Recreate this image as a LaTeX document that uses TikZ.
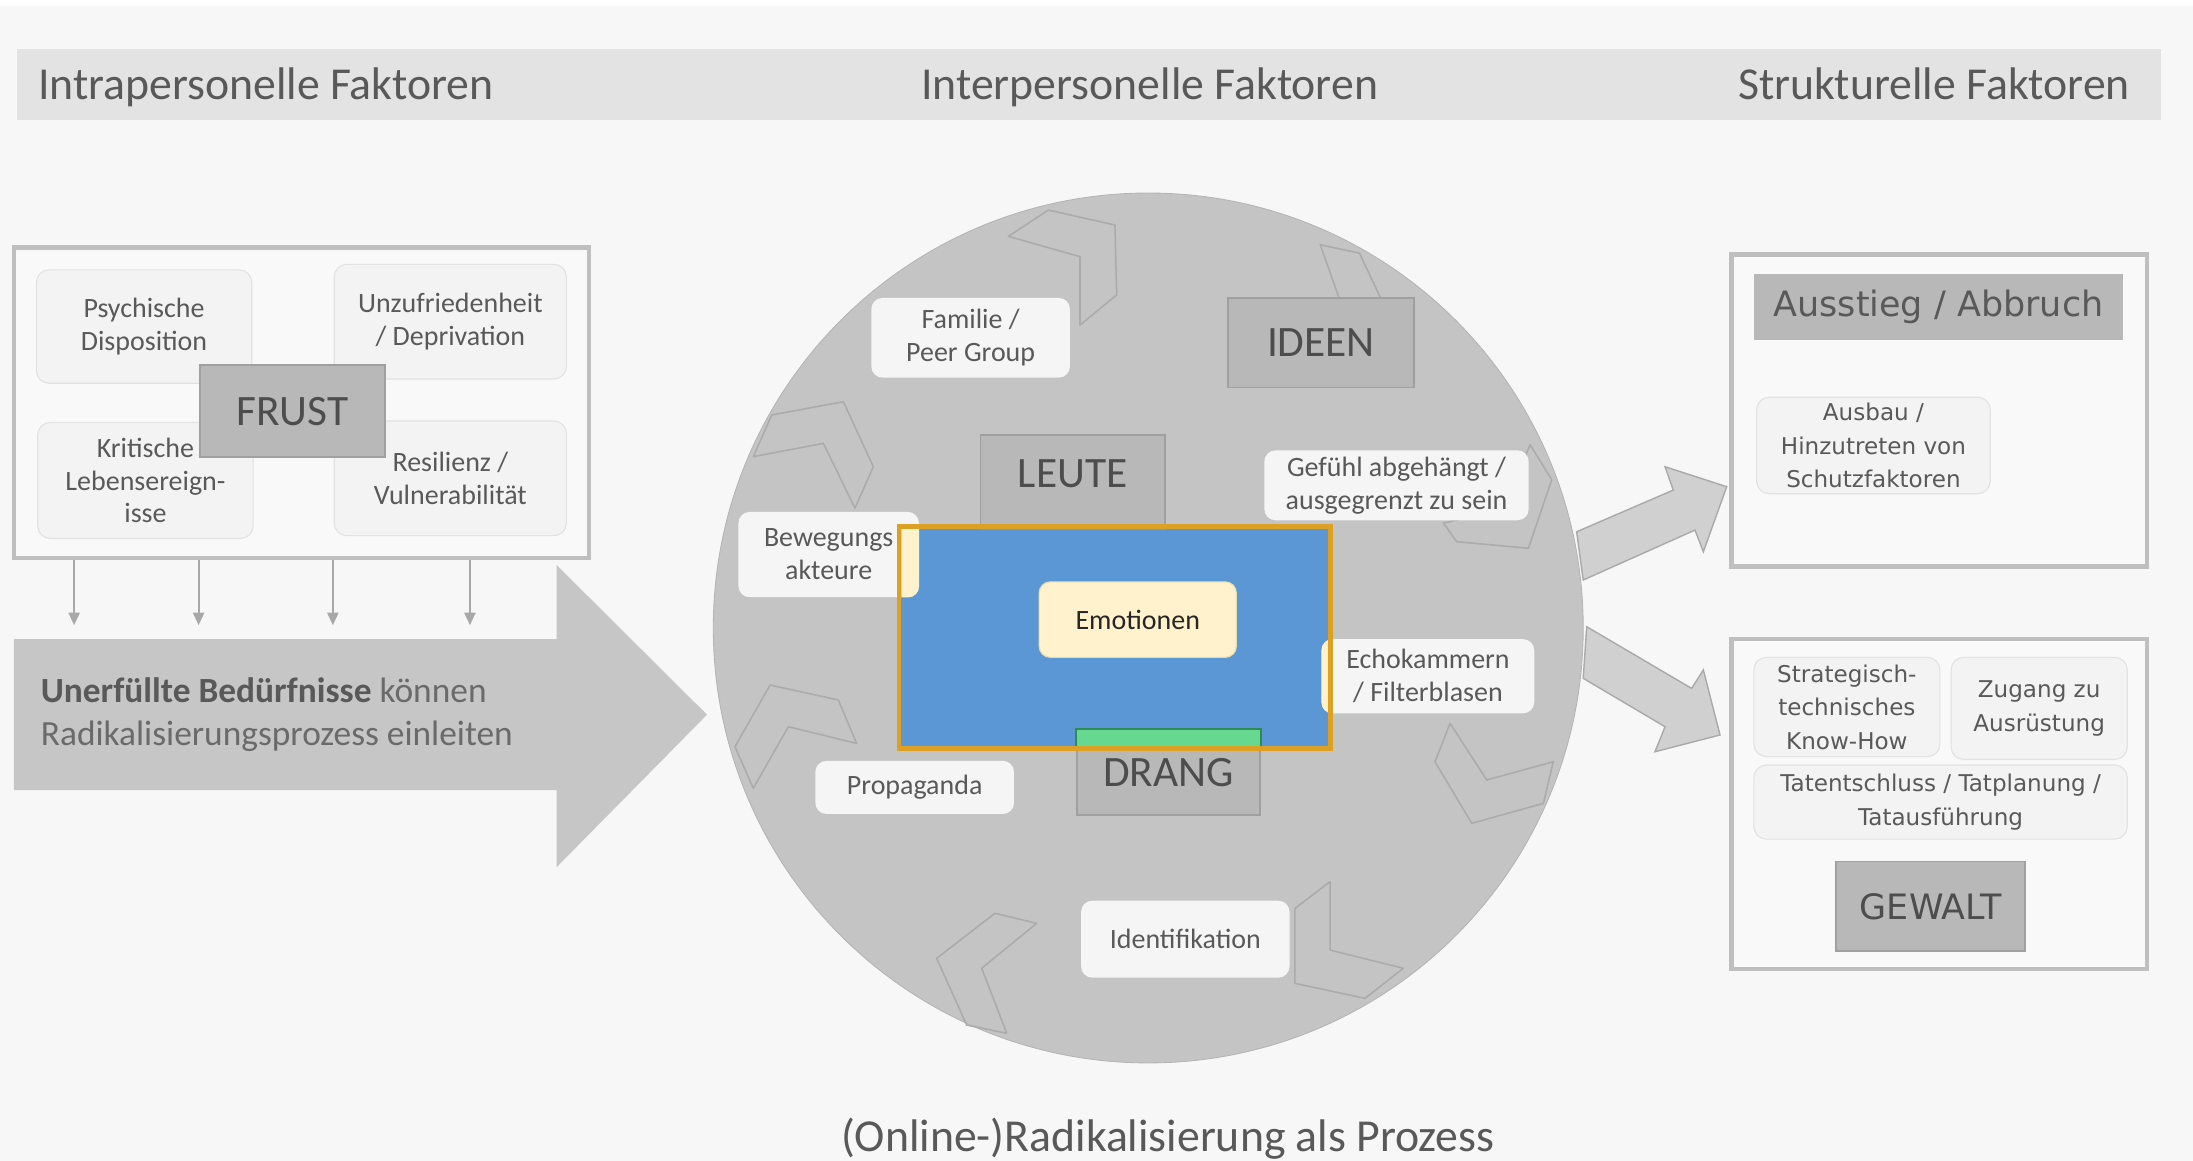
\documentclass[tikz,border=0pt]{standalone}
\usepackage{fontspec}
\setmainfont{Carlito}
\newfontfamily\verd{DejaVu Sans}
\usetikzlibrary{arrows.meta}
\definecolor{bgc}{HTML}{F7F7F7}
\definecolor{bandc}{HTML}{E3E3E3}
\definecolor{txtc}{HTML}{595959}
\definecolor{framelinec}{HTML}{BFBFBF}
\definecolor{framefillc}{HTML}{F9F9F9}
\definecolor{softfillc}{HTML}{F3F3F3}
\definecolor{softlinec}{HTML}{E2E2E2}
\definecolor{dfillc}{HTML}{B8B8B8}
\definecolor{dlinec}{HTML}{A0A0A0}
\definecolor{dtxtc}{HTML}{4D4D4D}
\definecolor{circc}{HTML}{C4C4C4}
\definecolor{chevc}{HTML}{ABABAB}
\definecolor{wfillc}{HTML}{F5F5F5}
\definecolor{arrc}{HTML}{A8A8A8}
\definecolor{bigarrc}{HTML}{C6C6C6}
\definecolor{barrfillc}{HTML}{D0D0D0}
\definecolor{barrlinec}{HTML}{A9A9A9}
\definecolor{ovblue}{HTML}{5B97D5}
\definecolor{ovorange}{HTML}{DCA024}
\definecolor{ovyellow}{HTML}{FFF2CC}
\definecolor{ovyellowline}{HTML}{E9DCB0}
\definecolor{ovgreen}{HTML}{67D88F}
\definecolor{ovgreenline}{HTML}{2E8B57}
\definecolor{ovteal}{HTML}{5AA8B8}
\tikzset{
  softbox/.style={draw=softlinec, fill=softfillc, rounded corners=9pt, line width=0.8pt, align=center, text=txtc, inner sep=0pt, font=\fontsize{20}{23.5}\selectfont},
  whitebox/.style={fill=wfillc, rounded corners=8pt, align=center, text=txtc, inner sep=0pt, font=\fontsize{20}{23.5}\selectfont},
  darkbox/.style={fill=dfillc, draw=dlinec, line width=1.3pt, text=dtxtc, inner sep=0pt, font=\fontsize{31}{36}\selectfont},
  framebox/.style={draw=framelinec, line width=3pt, fill=framefillc, inner sep=0pt},
  verdbox/.style={softbox, font=\verd\fontsize{16.5}{24}\selectfont},
  verddark/.style={darkbox, font=\verd\fontsize{25}{30}\selectfont},
  chev/.style={draw=chevc, line width=1.1pt, line join=round},
  downarr/.style={draw=arrc, line width=1.4pt, -{Triangle[width=8pt,length=9pt]}},
  blockarr/.style={fill=barrfillc, draw=barrlinec, line width=1pt},
  title/.style={text=txtc, inner sep=0pt, font=\fontsize{32.7}{38}\selectfont},
}
\begin{document}
\begin{tikzpicture}[x=1pt,y=-1pt]
\useasboundingbox (0,0) rectangle (1568,830);
\fill[bgc] (0,0) rectangle (1568,830);
\fill[white] (0,0) rectangle (1568,4);
% header band
\fill[bandc] (12,35) rectangle (1545,86);
\node[title, anchor=base west] (t1) at (27,71) {Intrapersonelle Faktoren};
\node[title, anchor=base] (t2) at (822,71) {Interpersonelle Faktoren};
\node[title, anchor=base east] (t3) at (1523,71) {Strukturelle Faktoren};

% ---------------- left part
\fill[bigarrc] (10,457) -- (398,457) -- (398,404) -- (505.5,511) -- (398,620) -- (398,565) -- (10,565) -- cycle;
\node[anchor=west, align=left, inner sep=0pt, text=txtc!90!white, font=\fontsize{25.3}{31}\selectfont] (need) at (29,511)
  {{\color{txtc}\bfseries Unerfüllte Bedürfnisse} können\\Radikalisierungsprozess einleiten};

\node[framebox, minimum width=411pt, minimum height=222pt] (lbox) at (215.5,288) {};
\node[softbox, minimum width=154pt, minimum height=81pt] (psy) at (103,233.5) {Psychische\\Disposition};
\node[softbox, minimum width=166pt, minimum height=82pt] (unz) at (322,230) {Unzufriedenheit\\/ Deprivation};
\node[softbox, minimum width=154pt, minimum height=83pt] (krit) at (104,343.5) {Kritische\\Lebensereign-\\isse};
\node[softbox, minimum width=166pt, minimum height=82pt] (res) at (322,342) {Resilienz /\\Vulnerabilität};
\node[darkbox, minimum width=132pt, minimum height=66pt] (frust) at (209,294) {FRUST};

\coordinate (d1) at (53,447);
\coordinate (d2) at (142,447);
\coordinate (d3) at (238,447);
\coordinate (d4) at (336,447);
\foreach \d in {d1,d2,d3,d4} \draw[downarr] (lbox.south -| \d) -- (\d);

% ---------------- right block arrows
\draw[blockarr] (1127.3,380.2) -- (1196.4,350.4) -- (1190.5,333.7) -- (1234.6,348) -- (1217.9,394.5) -- (1211.9,379) -- (1132,414.7) -- cycle;
\draw[blockarr] (1134.5,448.1) -- (1209.5,492.2) -- (1217.9,479) -- (1229.8,525.5) -- (1183.3,537.5) -- (1190.5,519.6) -- (1132,485) -- cycle;

% ---------------- circle
\node[circle, fill=circc, draw=circc!92!black, line width=0.6pt, minimum size=622pt, inner sep=0pt] (circ) at (821,449) {};
% chevrons
\draw[chev] (721,169) -- (749.6,150.2) -- (797.2,160.9) -- (798.4,210.9) -- (772.2,232.4) -- (772.2,183.5) -- cycle;
\draw[chev] (944,175) -- (972,181) -- (992.8,225.1) -- (954.2,256.8) -- (921.1,249.4) -- (959.6,219.3) -- cycle;
\draw[chev] (1032,374) -- (1041.5,387.3) -- (1092.8,392) -- (1109.5,343) -- (1094,318) -- (1075,364) -- cycle;
\draw[chev] (1036.8,517.2) -- (1026,544.6) -- (1052.3,588.7) -- (1103.5,574.4) -- (1110.6,544.6) -- (1063,557.7) -- cycle;
\draw[chev] (951,630.4) -- (925.9,649.5) -- (925.9,703.1) -- (976,713.8) -- (1003.4,692.3) -- (951,679.3) -- cycle;
\draw[chev] (741.2,660.2) -- (711.4,653) -- (669.7,685.2) -- (691.2,732.9) -- (719.8,738.8) -- (701.9,692.3) -- cycle;
\draw[chev] (612.5,531.5) -- (599.4,500.5) -- (550.6,489.8) -- (525.5,533.9) -- (538.6,563.6) -- (563.7,519.6) -- cycle;
\draw[chev] (538.6,326.5) -- (551.8,296.7) -- (603,287.2) -- (624.4,333.7) -- (611.3,363.4) -- (588.7,317) -- cycle;

\node[whitebox, minimum width=142pt, minimum height=57pt] (fam) at (694,241.5) {Familie /\\Peer Group};
\node[darkbox, minimum width=133pt, minimum height=64pt] (ideen) at (944.5,245) {IDEEN};
\node[darkbox, minimum width=132pt, minimum height=67pt, text depth=12pt] (leute) at (767,344.5) {LEUTE};
\node[whitebox, minimum width=189pt, minimum height=50pt] (gef) at (998.5,347) {Gefühl abgehängt /\\ausgegrenzt zu sein};
\node[whitebox, minimum width=129pt, minimum height=61pt] (bew) at (592.5,396.5) {Bewegungs\\akteure};
\node[whitebox, minimum width=152pt, minimum height=53pt] (echo) at (1021,483.5) {Echokammern\\/ Filterblasen};
\node[whitebox, minimum width=142pt, minimum height=38pt] (prop) at (654,563) {Propaganda};
\node[darkbox, minimum width=131pt, minimum height=61pt] (drang) at (835.5,552.5) {DRANG};
\node[whitebox, minimum width=149pt, minimum height=55pt] (ident) at (847.5,671.5) {Identifikation};

% ---------------- selection overlay
\fill[ovblue] (641,375) rectangle (953,537);
\begin{scope}
  \clip (644.5,378.5) rectangle (949.5,533.5);
  \fill[ovyellow] (bew.south west) [rounded corners=8pt] rectangle (bew.north east);
  \fill[ovyellow] (echo.south west) [rounded corners=8pt] rectangle (echo.north east);
  \fill[ovteal] (leute.south west) rectangle (leute.north east);
  \draw[fill=ovgreen, draw=ovgreenline, line width=1pt] (drang.south west) rectangle (drang.north east);
\end{scope}
\node[whitebox, fill=ovyellow, draw=ovyellowline, line width=0.8pt, text=black!85, minimum width=141pt, minimum height=54pt] (emot) at (813.5,443) {Emotionen};
\draw[ovorange, line width=3.5pt] (642.75,376.75) rectangle (951.25,535.25);

% ---------------- right boxes
\node[framebox, minimum width=297pt, minimum height=223pt] (ubox) at (1386.5,293.5) {};
\node[fill=dfillc, text=txtc, inner sep=0pt, minimum width=264pt, minimum height=47pt, font=\verd\fontsize{25}{30}\selectfont] (aus) at (1386,219.5) {Ausstieg / Abbruch};
\node[verdbox, minimum width=167pt, minimum height=69pt] (ausbau) at (1339.5,318.5) {Ausbau /\\Hinzutreten von\\Schutzfaktoren};

\node[framebox, minimum width=297pt, minimum height=236pt] (dbox) at (1386.5,575) {};
\node[verdbox, minimum width=133pt, minimum height=71pt] (strat) at (1320.5,505.5) {Strategisch-\\technisches\\Know-How};
\node[verdbox, minimum width=126pt, minimum height=73pt] (zug) at (1458,506.5) {Zugang zu\\Ausrüstung};
\node[verdbox, minimum width=267pt, minimum height=53pt] (tat) at (1387.5,573.5) {Tatentschluss / Tatplanung /\\Tatausführung};
\node[verddark, minimum width=135pt, minimum height=64pt] (gewalt) at (1380.5,648) {GEWALT};

% caption
\node[title, anchor=base] (cap) at (835,823) {(Online-)Radikalisierung als Prozess};
\end{tikzpicture}
\end{document}
